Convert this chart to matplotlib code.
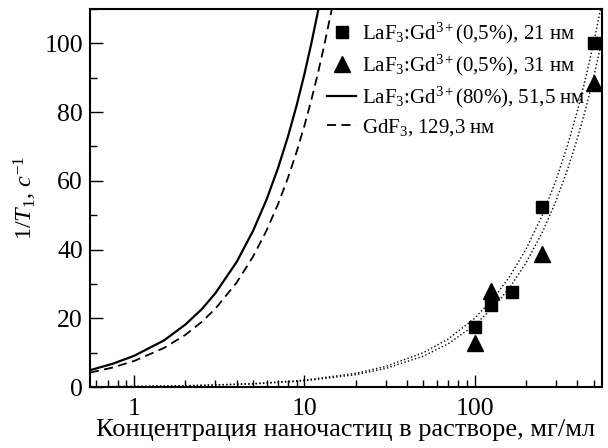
import numpy as np
import matplotlib
matplotlib.use("Agg")
import matplotlib.pyplot as plt
from matplotlib.ticker import FixedLocator, MultipleLocator, NullFormatter

plt.rcParams["font.family"] = ["Liberation Serif", "DejaVu Serif"]
plt.rcParams["mathtext.fontset"] = "custom"
plt.rcParams["mathtext.rm"] = "Liberation Serif"
plt.rcParams["mathtext.it"] = "Liberation Serif:italic"

# measured points
sq_x = [100, 125, 165, 250, 500]
sq_y = [17.5, 24.0, 27.7, 52.5, 100.0]
tri_x = [100, 125, 250, 500]
tri_y = [12.8, 28.0, 38.8, 88.5]

# curves
solid_x = [0.55, 0.75, 1, 1.5, 2, 2.5, 3, 4, 5, 6, 7, 8, 9, 10, 11, 12.1]
solid_y = [4.9, 6.8, 9.1, 13.6, 18.2, 22.7, 27.3, 36.4, 45.5, 54.6, 63.7, 72.8, 81.9, 91.0, 100.1, 110.0]
dash_x = [0.55, 0.75, 1, 1.5, 2, 2.5, 3, 4, 5, 6, 7, 8, 9, 10, 11, 12, 13, 14.5]
dash_y = [4.2, 5.7, 7.6, 11.4, 15.2, 19.0, 22.8, 30.4, 38.0, 45.6, 53.2, 60.8, 68.4, 76.0, 83.6, 91.2, 98.8, 110.0]
dot1_x = [0.55, 1, 2, 5, 10, 20, 30, 50, 70, 100, 130, 160, 200, 250, 300, 350, 400, 450, 500, 550]
dot1_y = [0.1, 0.2, 0.4, 1.0, 2.0, 4.0, 6.0, 10.0, 14.0, 20.0, 26.0, 32.0, 40.0, 50.0, 60.0, 70.0, 80.0, 90.0, 100.0, 110.0]
dot2_x = [0.55, 1, 2, 5, 10, 20, 30, 50, 70, 100, 130, 160, 200, 250, 300, 350, 400, 450, 500, 555]
dot2_y = [0.1, 0.18, 0.36, 0.9, 1.8, 3.6, 5.4, 9.0, 12.6, 18.0, 23.4, 28.8, 36.0, 45.0, 54.0, 63.0, 72.0, 81.0, 90.0, 100.0]

labels = [
    "LaF$_3$:Gd$^{3+}$(0,5%), 21 нм",
    "LaF$_3$:Gd$^{3+}$(0,5%), 31 нм",
    "LaF$_3$:Gd$^{3+}$(80%), 51,5 нм",
    "GdF$_3$, 129,3 нм",
]

fig = plt.figure(figsize=(6.08, 4.48), dpi=100)
ax = fig.add_axes([0.148, 0.136, 0.842, 0.844])

ax.plot(dot1_x, dot1_y, color="black", linestyle=":", linewidth=1.0)
ax.plot(dot2_x, dot2_y, color="black", linestyle=":", linewidth=1.0)
h1, = ax.plot(sq_x, sq_y, "s", color="black", markersize=9, linestyle="none")
h2, = ax.plot(tri_x, tri_y, "^", color="black", markersize=11, linestyle="none")
h3, = ax.plot(solid_x, solid_y, color="black", linewidth=1.6)
h4, = ax.plot(dash_x, dash_y, color="black", linewidth=1.3, linestyle=(0, (5, 3)))

ax.set_xscale("log")
ax.set_xlim(0.55, 560)
ax.set_ylim(0, 110)

ax.xaxis.set_major_locator(FixedLocator([1, 10, 100]))
ax.set_xticklabels(["1", "10", "100"])
ax.xaxis.set_minor_formatter(NullFormatter())
ax.yaxis.set_major_locator(MultipleLocator(20))
ax.yaxis.set_minor_locator(MultipleLocator(10))

ax.tick_params(which="major", direction="in", length=9, width=1.0, labelsize=18.5)
ax.tick_params(which="minor", direction="in", length=5, width=1.0)
ax.tick_params(axis="x", pad=8)
ax.tick_params(axis="y", pad=5)
for sp in ax.spines.values():
    sp.set_linewidth(1.5)

ax.set_xlabel("Концентрация наночастиц в растворе, мг/мл", fontsize=19, labelpad=-1)
ax.set_ylabel("1/$\\mathit{T}_1$, $\\mathit{с}^{-1}$", fontsize=17.5, labelpad=4)

ax.legend([h1, h2, h3, h4], labels, loc="upper right", bbox_to_anchor=(0.985, 0.99),
          frameon=False, fontsize=15, handlelength=1.4, handletextpad=0.3,
          labelspacing=0.32, borderaxespad=0.0)

fig.savefig("out.png", dpi=100)
